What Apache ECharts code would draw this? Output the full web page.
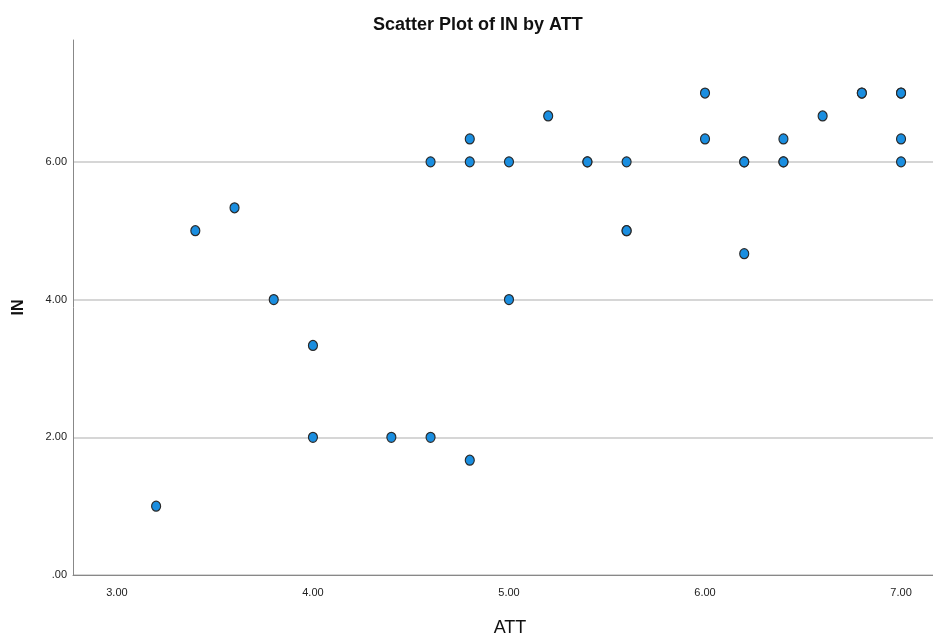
<!DOCTYPE html>
<html><head><meta charset="utf-8">
<script src="https://cdn.jsdelivr.net/npm/echarts@6/dist/echarts.min.js"></script>
<style>html,body{margin:0;padding:0;background:#fff}#c{width:933px;height:640px}</style>
</head><body><div id="c"></div>
<script>
const attValues = [3.2,3.4,3.6,3.8,4.0,4.0,4.4,4.6,4.6,4.8,4.8,4.8,5.0,5.0,5.2,5.4,5.4,5.6,5.6,5.6,6.0,6.0,6.2,6.2,6.2,6.4,6.4,6.4,6.6,6.8,6.8,7.0,7.0,7.0,7.0];
const inValues  = [1.0,5.0,5.3333,4.0,3.3333,2.0,2.0,6.0,2.0,6.3333,6.0,1.6667,6.0,4.0,6.6667,6.0,6.0,6.0,5.0,5.0,7.0,6.3333,6.0,6.0,4.6667,6.3333,6.0,6.0,6.6667,7.0,7.0,7.0,7.0,6.3333,6.0];
const xTicks = [3,4,5,6,7];
const yTicks = [0,2,4,6];
const titleText = 'Scatter Plot of IN by ATT';
const xName = 'ATT';
const yName = 'IN';

const fmt = v => { const s = Number(v).toFixed(2); return s.startsWith('0.') ? s.slice(1) : s; };
const font = '"Liberation Sans",Arial,sans-serif';

const chart = echarts.init(document.getElementById('c'));
chart.setOption({
  animation: false,
  title: { text: titleText, left: 368, top: 11,
    textStyle: { fontFamily: font, fontSize: 18, fontWeight: 'bold', color: '#111' } },
  grid: { left: 73, right: 0, top: 40, bottom: 65, containLabel: false, outerBoundsMode: 'none' },
  xAxis: {
    type: 'value', min: 2.776, max: 7.163,
    name: xName, nameLocation: 'middle', nameGap: 44,
    nameTextStyle: { fontFamily: font, fontSize: 18, color: '#111', padding: [0, 0, 0, 14] },
    axisLine: { show: true, lineStyle: { color: '#888', width: 1 } },
    axisTick: { show: false },
    splitLine: { show: false },
    axisLabel: { customValues: xTicks, formatter: fmt, margin: 12,
      fontFamily: font, fontSize: 11, color: '#222' }
  },
  yAxis: {
    type: 'value', min: 0, max: 7.77,
    name: yName, nameLocation: 'middle', nameGap: 46, nameRotate: 90,
    nameTextStyle: { fontFamily: font, fontSize: 16, fontWeight: 'bold', color: '#111' },
    axisLine: { show: true, lineStyle: { color: '#888', width: 1 } },
    axisTick: { show: false, customValues: yTicks },
    splitLine: { show: true, lineStyle: { color: '#c8c8c8', width: 1.5 } },
    axisLabel: { customValues: yTicks, formatter: fmt, margin: 6,
      fontFamily: font, fontSize: 11, color: '#222' }
  },
  series: [{
    type: 'scatter',
    data: attValues.map((x, i) => [x, inValues[i]]),
    symbol: 'circle', symbolSize: [9, 10],
    itemStyle: { color: '#1a8ee0', borderColor: '#2a2a2a', borderWidth: 1.2, opacity: 1 }
  }]
});
</script></body></html>
